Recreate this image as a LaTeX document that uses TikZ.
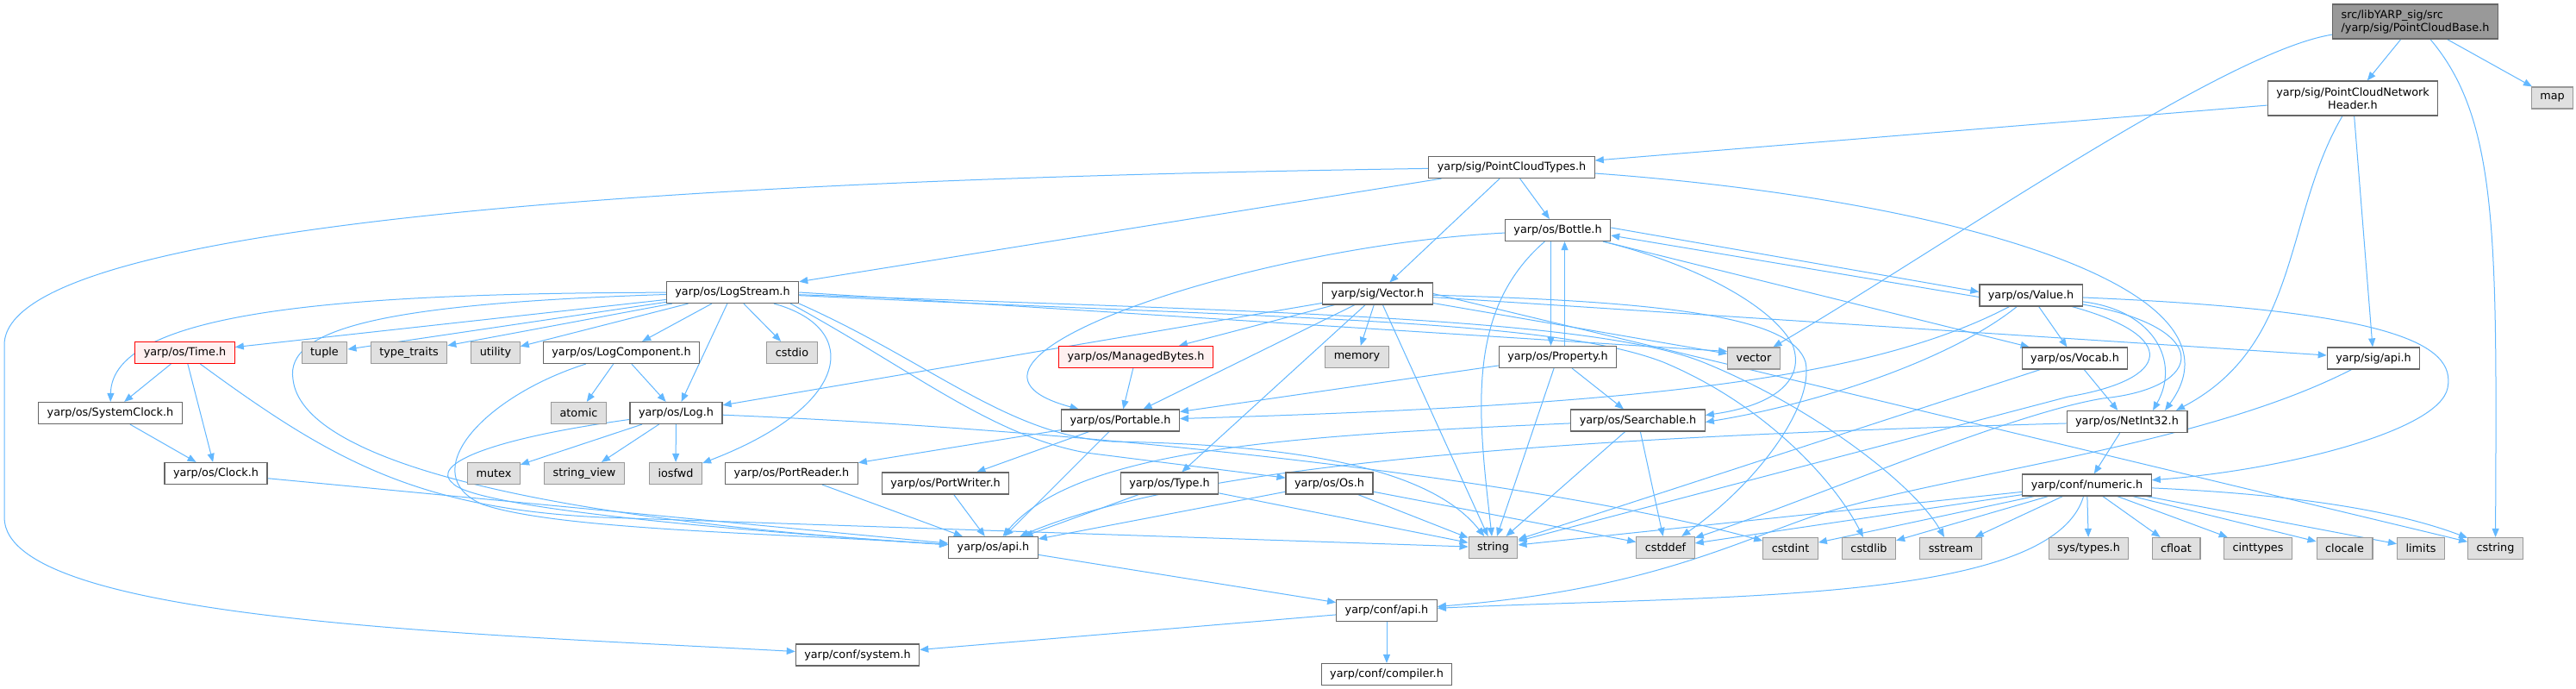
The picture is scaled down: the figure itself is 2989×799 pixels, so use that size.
\documentclass[tikz,border=0pt]{standalone}
\usepackage{fontspec}
\setmainfont{DejaVu Sans}
\usetikzlibrary{arrows.meta}
\definecolor{edge}{HTML}{63B8FF}
\definecolor{frame}{HTML}{666666}
\definecolor{sysframe}{HTML}{999999}
\definecolor{sysfill}{HTML}{E0E0E0}
\definecolor{rootfill}{HTML}{999999}
\definecolor{truncframe}{HTML}{FF0000}
\definecolor{truncfill}{HTML}{FFF0F0}
\pgfdeclarelayer{bg}
\pgfsetlayers{bg,main}

\begin{document}
\begin{tikzpicture}[x=1pt,y=-1pt,>={Triangle[length=10pt,width=8pt]},
  hdr/.style={draw=frame,fill=white,line width=1.2pt,minimum height=25pt,inner xsep=10pt,inner ysep=2pt,font=\fontsize{12.8}{15}\selectfont},
  sys/.style={hdr,draw=sysframe,fill=sysfill},
  trunc/.style={hdr,draw=truncframe,fill=truncfill},
  dep/.style={->,color=edge,line width=1pt}]
  \useasboundingbox (0,0) rectangle (2989,799);
  \node[hdr,fill=rootfill,minimum height=40pt,align=left] (root) at (2802.5,25) {src/libYARP\_sig/src\\/yarp/sig/PointCloudBase.h};
  \node[hdr,minimum height=40pt,align=center] (pcnh) at (2730,114) {yarp/sig/PointCloudNetwork\\Header.h};
  \node[sys] (map) at (2961.5,113.5) {map};
  \node[hdr] (pct) at (1754,194) {yarp/sig/PointCloudTypes.h};
  \node[hdr] (bottle) at (1807.5,267) {yarp/os/Bottle.h};
  \node[hdr] (logstream) at (850,339) {yarp/os/LogStream.h};
  \node[hdr] (sigvec) at (1598.5,340.5) {yarp/sig/Vector.h};
  \node[hdr] (value) at (2356.5,342.5) {yarp/os/Value.h};
  \node[trunc] (time) at (214.5,409) {yarp/os/Time.h};
  \node[sys] (tuple) at (376.5,409) {tuple};
  \node[sys] (typetraits) at (474.5,409) {type\_traits};
  \node[sys] (utility) at (575,409) {utility};
  \node[hdr] (logcomp) at (721,409) {yarp/os/LogComponent.h};
  \node[sys] (cstdio) at (919,409) {cstdio};
  \node[trunc] (managed) at (1318,414) {yarp/os/ManagedBytes.h};
  \node[sys] (memory) at (1574.5,414) {memory};
  \node[hdr] (property) at (1807.5,414) {yarp/os/Property.h};
  \node[sys] (stdvec) at (2035,415.5) {vector};
  \node[hdr] (vocab) at (2407.5,415.5) {yarp/os/Vocab.h};
  \node[hdr] (sigapi) at (2754,415.5) {yarp/sig/api.h};
  \node[hdr] (sysclock) at (128,479) {yarp/os/SystemClock.h};
  \node[sys] (atomic) at (671.5,479) {atomic};
  \node[hdr] (log) at (784.5,479) {yarp/os/Log.h};
  \node[hdr] (portable) at (1300,487.5) {yarp/os/Portable.h};
  \node[hdr] (search) at (1900.5,487.5) {yarp/os/Searchable.h};
  \node[hdr] (netint) at (2468,489) {yarp/os/NetInt32.h};
  \node[hdr] (clock) at (250.5,549) {yarp/os/Clock.h};
  \node[sys] (mutex) at (573,549) {mutex};
  \node[sys] (strview) at (678,549) {string\_view};
  \node[sys] (iosfwd) at (784,549) {iosfwd};
  \node[hdr] (preader) at (918.5,549) {yarp/os/PortReader.h};
  \node[hdr] (pwriter) at (1097,560.5) {yarp/os/PortWriter.h};
  \node[hdr] (type) at (1357,560.5) {yarp/os/Type.h};
  \node[hdr] (os) at (1542.5,560.5) {yarp/os/Os.h};
  \node[hdr] (numeric) at (2421.5,562.5) {yarp/conf/numeric.h};
  \node[hdr] (osapi) at (1152.5,635) {yarp/os/api.h};
  \node[sys] (string) at (1732.5,635) {string};
  \node[sys] (cstddef) at (1932.5,635) {cstddef};
  \node[sys] (cstdint) at (2077.5,636) {cstdint};
  \node[sys] (cstdlib) at (2168.5,636) {cstdlib};
  \node[sys] (sstream) at (2263.5,636) {sstream};
  \node[sys] (systypes) at (2423.5,636) {sys/types.h};
  \node[sys] (cfloat) at (2525,636) {cfloat};
  \node[sys] (cinttypes) at (2620,636) {cinttypes};
  \node[sys] (clocale) at (2720.5,636) {clocale};
  \node[sys] (limits) at (2809,636) {limits};
  \node[sys] (cstring) at (2895.5,636) {cstring};
  \node[hdr] (confapi) at (1609,708) {yarp/conf/api.h};
  \node[hdr] (system) at (995,759.5) {yarp/conf/system.h};
  \node[hdr] (compiler) at (1609,782) {yarp/conf/compiler.h};

  \begin{pgfonlayer}{bg}
  \fill[white] (0,0) rectangle (2989,799);
  \draw[dep] (root) -- (pcnh);
  \draw[dep] (root) -- (map);
  \draw[dep] (root) .. controls (2580,60) and (2250,290) .. (stdvec);
  \draw[dep] (root) .. controls (2900,140) and (2897,280) .. (cstring);
  \draw[dep] (pcnh) -- (pct);
  \draw[dep] (pcnh) -- (sigapi);
  \draw[dep] (pcnh) .. controls (2650,250) and (2670,400) .. ([xshift=57pt]netint.north);
  \draw[dep] (pct) -- (logstream);
  \draw[dep] (pct) -- (bottle);
  \draw[dep] (pct) -- (sigvec);
  \draw[dep] (pct) .. controls (2250,230) and (2620,330) .. ([xshift=44pt]netint.north);
  \draw[dep] (pct) .. controls (1000,205) and (5,240) .. (5,400) -- (5,600) .. controls (5,720) and (550,735) .. (system);

  \draw[dep] (logstream) -- (time);
  \draw[dep] (logstream) .. controls (400,340) and (130,360) .. (sysclock);
  \draw[dep] (logstream) -- (tuple);
  \draw[dep] (logstream) -- (typetraits);
  \draw[dep] (logstream) -- (utility);
  \draw[dep] (logstream) -- (logcomp);
  \draw[dep] (logstream) -- (cstdio);
  \draw[dep] (logstream) -- (log);
  \draw[dep] (logstream) .. controls (1000,380) and (990,470) .. (iosfwd);
  \draw[dep] (logstream) .. controls (450,352) and (330,380) .. (340,440) .. controls (350,530) and (600,600) .. (osapi);
  \draw[dep] (logstream.south east) .. controls (1080,420) and (1170,505) .. (1290,512) .. controls (1450,515) and (1650,530) .. (string);
  \draw[dep] ([xshift=-10pt]logstream.south east) .. controls (1060,430) and (1150,505) .. (1260,525) -- (os);
  \draw[dep] (logstream) .. controls (1500,370) and (1800,370) .. (1930,420) .. controls (2050,470) and (2130,560) .. (cstdlib);
  \draw[dep] (logstream) .. controls (1500,362) and (1850,370) .. (1976,420) .. controls (2100,470) and (2220,560) .. (sstream);
  \draw[dep] (logstream.east) -- ([yshift=8pt]stdvec.west);

  \draw[dep] (time) -- (sysclock);
  \draw[dep] (time) -- (clock);
  \draw[dep] (time) .. controls (380,530) and (480,590) .. (700,600) -- (string);
  \draw[dep] (sysclock) -- (clock);
  \draw[dep] (clock) -- (osapi);
  \draw[dep] (logcomp) -- (atomic);
  \draw[dep] (logcomp) -- (log);
  \draw[dep] (logcomp) .. controls (560,460) and (480,550) .. (560,585) .. controls (650,615) and (900,618) .. (osapi);
  \draw[dep] (log) -- (mutex);
  \draw[dep] (log) -- (strview);
  \draw[dep] (log) -- (iosfwd);
  \draw[dep] (log) .. controls (560,510) and (500,540) .. (525,560) .. controls (540,580) and (700,605) .. (osapi);
  \draw[dep] (log) .. controls (1300,500) and (1800,560) .. (cstdint);

  \draw[dep] (portable) -- (preader);
  \draw[dep] (portable) -- (pwriter);
  \draw[dep] (portable) -- (osapi);
  \draw[dep] (preader) -- (osapi);
  \draw[dep] (pwriter) -- (osapi);
  \draw[dep] (managed) -- (portable);

  \draw[dep] (sigvec) -- (managed);
  \draw[dep] (sigvec) -- (memory);
  \draw[dep] (sigvec) -- (portable);
  \draw[dep] (sigvec) -- (type);
  \draw[dep] (sigvec) -- (string);
  \draw[dep] (sigvec) -- (log);
  \draw[dep] (sigvec) -- (stdvec);
  \draw[dep] (sigvec) -- (sigapi);
  \draw[dep] (sigvec) .. controls (1950,350) and (2080,370) .. (2095,420) .. controls (2105,470) and (2040,560) .. (cstddef);
  \draw[dep] (sigvec.east) -- (cstring);

  \draw[dep] (bottle) .. controls (1450,285) and (1050,420) .. (portable);
  \draw[dep] ([xshift=-8pt]bottle.south) -- ([xshift=-8pt]property.north);
  \draw[dep] ([xshift=8pt]property.north) -- ([xshift=8pt]bottle.south);
  \draw[dep] (bottle) .. controls (1700,360) and (1715,480) .. (string);
  \draw[dep] ([yshift=3pt]bottle.east) -- ([yshift=4pt]value.west);
  \draw[dep] ([yshift=-2pt]value.west) -- ([yshift=-6pt]bottle.east);
  \draw[dep] (bottle) .. controls (1980,310) and (2060,360) .. (2080,400) .. controls (2095,440) and (2060,470) .. ([yshift=6pt]search.east);
  \draw[dep] (bottle) -- (vocab);
  \draw[dep] (property) -- (portable);
  \draw[dep] (property) -- (search);
  \draw[dep] (property) -- (string);

  \draw[dep] (value) -- (vocab);
  \draw[dep] (value) .. controls (2170,440) and (1900,470) .. (portable);
  \draw[dep] (value) .. controls (2260,420) and (2100,470) .. ([yshift=-2pt]search.east);
  \draw[dep] (value) .. controls (2500,360) and (2530,420) .. ([xshift=30pt]netint.north);
  \draw[dep] (value) .. controls (2780,360) and (2850,400) .. (2840,450) .. controls (2830,500) and (2650,545) .. (numeric);
  \draw[dep] (value) .. controls (2530,390) and (2520,440) .. (2400,460) -- (string);
  \draw[dep] (value) .. controls (2570,380) and (2560,450) .. (2440,462) .. controls (2330,480) and (2100,580) .. (cstddef);
  \draw[dep] (vocab) -- (netint);
  \draw[dep] (vocab) -- (string);
  \draw[dep] (sigapi) .. controls (2550,520) and (2250,550) .. (2100,600) .. controls (2000,635) and (1900,685) .. (confapi);

  \draw[dep] (netint) -- (numeric);
  \draw[dep] (netint) .. controls (1900,505) and (1400,530) .. (osapi);
  \draw[dep] (search) -- (string);
  \draw[dep] (search) -- (cstddef);
  \draw[dep] (search) .. controls (1500,505) and (1250,520) .. (osapi);
  \draw[dep] (os) -- (osapi);
  \draw[dep] (os) -- (string);
  \draw[dep] (os) -- (cstddef);
  \draw[dep] (type) -- (osapi);
  \draw[dep] (type) -- (string);

  \draw[dep] (numeric) -- (string);
  \draw[dep] (numeric) -- (cstddef);
  \draw[dep] (numeric) -- (cstdint);
  \draw[dep] (numeric) -- (cstdlib);
  \draw[dep] (numeric) -- (sstream);
  \draw[dep] (numeric) -- (systypes);
  \draw[dep] (numeric) -- (cfloat);
  \draw[dep] (numeric) -- (cinttypes);
  \draw[dep] (numeric) -- (clocale);
  \draw[dep] (numeric) -- (limits);
  \draw[dep] (numeric) .. controls (2700,575) and (2800,600) .. (cstring);
  \draw[dep] (numeric) .. controls (2380,700) and (2000,690) .. (confapi);
  \draw[dep] (osapi) -- (confapi);
  \draw[dep] (confapi) -- (system);
  \draw[dep] (confapi) -- (compiler);
  \end{pgfonlayer}
\end{tikzpicture}
\end{document}
